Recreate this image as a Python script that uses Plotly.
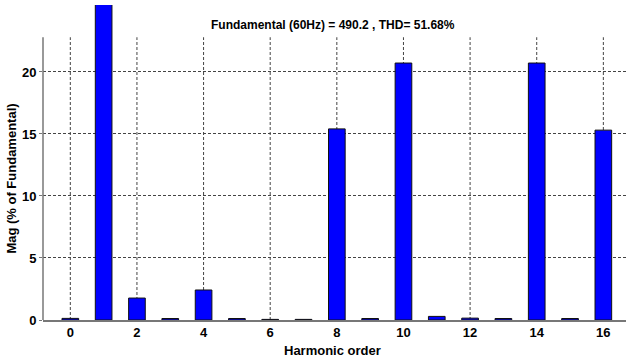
import plotly.graph_objects as go

# Harmonic spectrum, magnitude in % of the fundamental
harmonic_order = list(range(17))
magnitude_pct = [0.13, 100.0, 1.77, 0.12, 2.42, 0.12, 0.05, 0.05, 15.41,
                 0.12, 20.72, 0.29, 0.15, 0.12, 20.72, 0.12, 15.31]

x_ticks = [0, 2, 4, 6, 8, 10, 12, 14, 16]
y_ticks = [0, 5, 10, 15, 20]
y_axis_top = 22.8      # visible axis limit (the fundamental bar overshoots it)
y_view_top = 25.4
x_view = [-0.82, 16.68]

title_text = "Fundamental (60Hz) = 490.2 , THD= 51.68%"
font_family = "Liberation Sans Narrow, Arial Narrow, Liberation Sans, Arial"

fig = go.Figure()
fig.add_trace(go.Bar(
    x=harmonic_order, y=magnitude_pct, width=0.5,
    marker=dict(color="#0000FF", line=dict(color="#111111", width=1)),
))

shapes = []
# dashed vertical grid lines only up to the axis limit
for t in x_ticks:
    shapes.append(dict(type="line", xref="x", yref="y", x0=t, x1=t, y0=0, y1=y_axis_top,
                       line=dict(color="#444444", width=1, dash="3px,2px"), layer="below"))
# left axis line
shapes.append(dict(type="line", xref="paper", yref="y", x0=0, x1=0, y0=0, y1=y_axis_top,
                   line=dict(color="#777777", width=1.5), layer="above"))
fig.update_layout(shapes=shapes)

fig.update_layout(
    width=626, height=361,
    margin=dict(l=43, r=0, t=5, b=41),
    paper_bgcolor="white", plot_bgcolor="white",
    showlegend=False,
    font=dict(family=font_family, size=12, color="black"),
    xaxis=dict(range=x_view, tickvals=x_ticks, showgrid=False, zeroline=False,
               showline=True, linecolor="#777777", linewidth=1.5,
               ticks="", tickfont=dict(family=font_family, size=13, color="black", weight="bold")),
    yaxis=dict(range=[0, y_view_top], tickvals=y_ticks, showgrid=True,
               gridcolor="#444444", griddash="3px,2px", gridwidth=1, zeroline=False,
               showline=False, ticks="outside", ticklen=3, tickcolor="#777777",
               tickfont=dict(family=font_family, size=13, color="black", weight="bold")),
    annotations=[
        dict(text=title_text, xref="paper", yref="paper", x=0.497, y=1, yshift=-20,
             yanchor="middle", showarrow=False,
             font=dict(family=font_family, size=12, color="black", weight="bold")),
        dict(text="Harmonic order", xref="paper", yref="paper", x=0.497, y=0, yshift=-30,
             yanchor="middle", showarrow=False,
             font=dict(family=font_family, size=13, color="black", weight="bold")),
        dict(text="Mag (% of Fundamental)", xref="paper", yref="paper", x=0, xshift=-31,
             y=(y_axis_top / 2) / y_view_top, textangle=-90, xanchor="center",
             showarrow=False,
             font=dict(family=font_family, size=13, color="black", weight="bold")),
    ],
)

fig.write_html("out.html")
